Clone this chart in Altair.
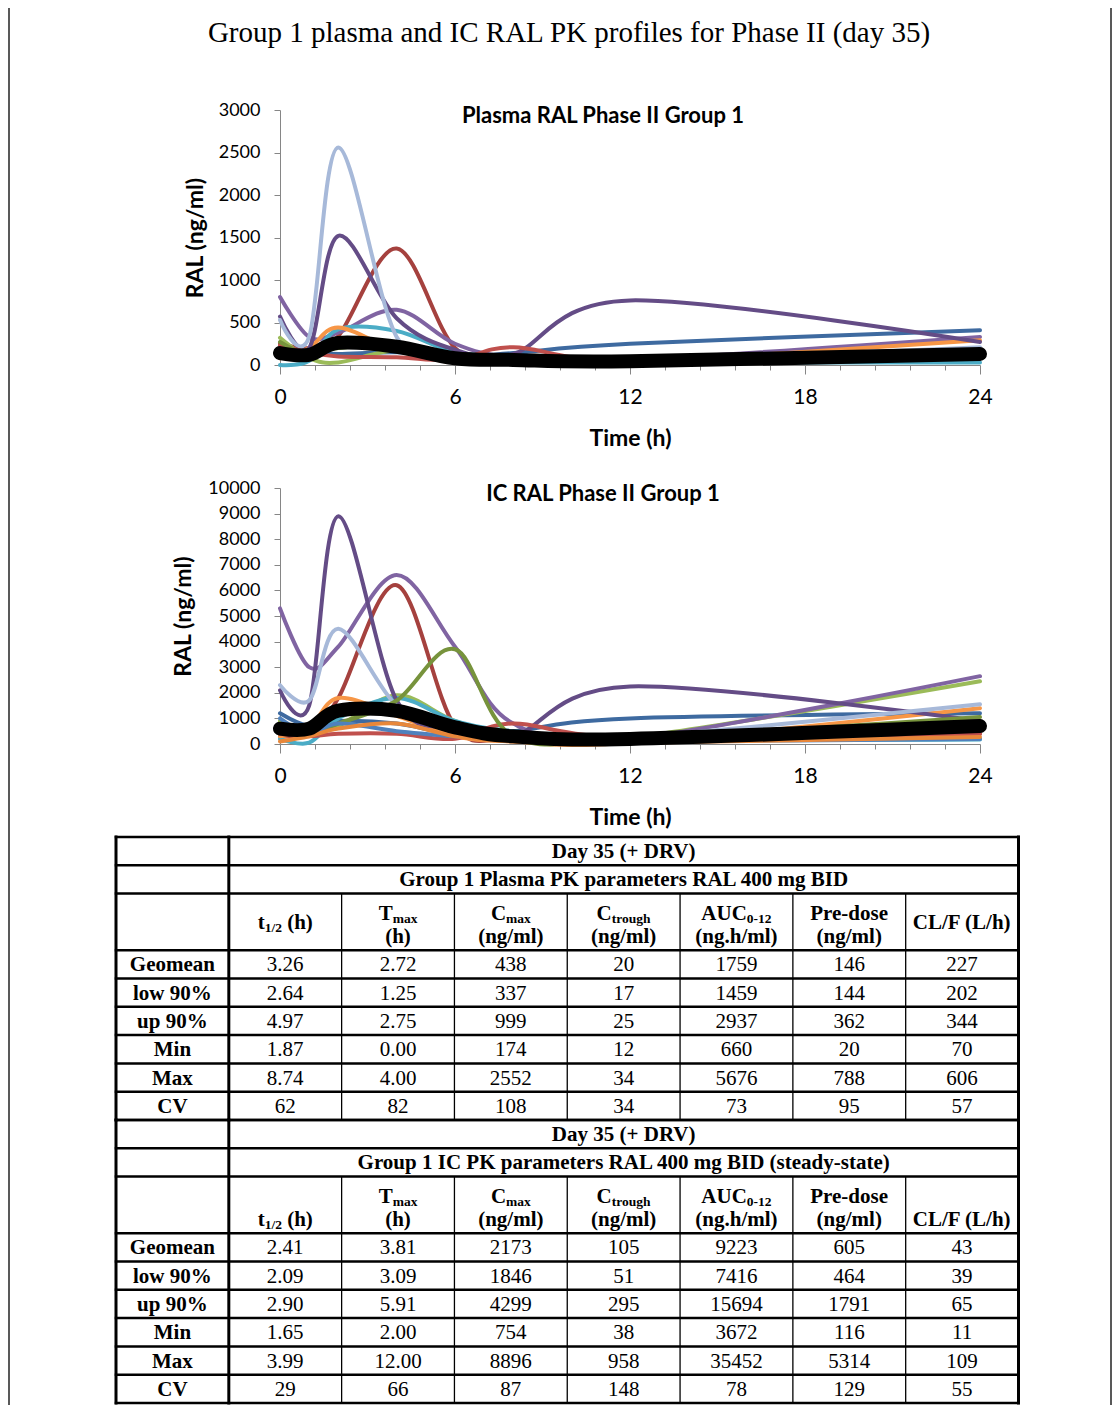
import altair as alt
import pandas as pd

# ---------------- data ----------------
hours = [0, 1, 2, 4, 6, 8, 12, 24]

plasma_subjects = ["S01", "S02", "S03", "S04", "S05", "S06", "S07", "S08", "S09", "S10"]
plasma_colors = ["#3E6AA0", "#A5413E", "#9BBB59", "#8064A2", "#4BACC6",
                 "#F79646", "#644C86", "#A7B9D9", "#C0504D", "#77933C"]
plasma_s01 = [200, 150, 130, 150, 100, 140, 250, 410]
plasma_s02 = [250, 200, 340, 1370, 200, 50, 30, 100]
plasma_s03 = [320, 80, 30, 170, 60, 40, 30, 120]
plasma_s04 = [800, 330, 380, 650, 250, 90, 60, 330]
plasma_s05 = [0, 50, 420, 400, 150, 110, 40, 30]
plasma_s06 = [80, 200, 440, 170, 30, 20, 30, 290]
plasma_s07 = [570, 200, 1520, 550, 180, 130, 760, 270]
plasma_s08 = [530, 330, 2560, 330, 120, 80, 50, 210]
plasma_s09 = [230, 150, 100, 90, 60, 210, 40, 100]
plasma_s10 = [270, 120, 200, 230, 100, 60, 40, 150]
plasma_mean = [140, 120, 260, 215, 80, 60, 45, 130]

ic_subjects = ["S01", "S02", "S03", "S04", "S05", "S06", "S07", "S08", "S09", "S10", "S11", "S12"]
ic_colors = ["#3E6AA0", "#A5413E", "#9BBB59", "#8064A2", "#4BACC6", "#F79646",
             "#644C86", "#A7B9D9", "#C0504D", "#77933C", "#4F81BD", "#E8873A"]
ic_s01 = [1200, 700, 900, 800, 400, 500, 1000, 1200]
ic_s02 = [300, 500, 1800, 6200, 700, 200, 150, 400]
ic_s03 = [900, 500, 700, 1900, 900, 400, 250, 2450]
ic_s04 = [5300, 3000, 3800, 6600, 3800, 800, 200, 2650]
ic_s05 = [200, 50, 1000, 1800, 900, 500, 200, 180]
ic_s06 = [300, 600, 1800, 1100, 300, 100, 50, 1400]
ic_s07 = [2100, 1500, 8900, 1700, 600, 300, 2250, 900]
ic_s08 = [2300, 1700, 4500, 1500, 500, 250, 250, 1550]
ic_s09 = [400, 300, 400, 400, 200, 800, 250, 400]
ic_s10 = [500, 400, 800, 1700, 3700, 300, 200, 1050]
ic_s11 = [1000, 400, 800, 500, 300, 150, 100, 200]
ic_s12 = [100, 300, 600, 800, 300, 100, 50, 270]
ic_mean = [600, 600, 1300, 1300, 650, 300, 200, 700]

x_ticks = [round(i * 1.2, 1) for i in range(21)]
plasma_y_ticks = [0, 500, 1000, 1500, 2000, 2500, 3000]
ic_y_ticks = [0, 1000, 2000, 3000, 4000, 5000, 6000, 7000, 8000, 9000, 10000]

main_title = "Group 1 plasma and IC RAL PK profiles for Phase II (day 35)"
plasma_title = "Plasma RAL Phase II Group 1"
ic_title = "IC RAL Phase II Group 1"

row_labels = ["Geomean", "low 90%", "up 90%", "Min", "Max", "CV"]
day_label = "Day 35 (+ DRV)"
table_titles = ["Group 1 Plasma PK parameters RAL 400 mg BID",
                "Group 1 IC PK parameters RAL 400 mg BID (steady-state)"]
plasma_rows = [
    ["3.26", "2.72", "438", "20", "1759", "146", "227"],
    ["2.64", "1.25", "337", "17", "1459", "144", "202"],
    ["4.97", "2.75", "999", "25", "2937", "362", "344"],
    ["1.87", "0.00", "174", "12", "660", "20", "70"],
    ["8.74", "4.00", "2552", "34", "5676", "788", "606"],
    ["62", "82", "108", "34", "73", "95", "57"],
]
ic_rows = [
    ["2.41", "3.81", "2173", "105", "9223", "605", "43"],
    ["2.09", "3.09", "1846", "51", "7416", "464", "39"],
    ["2.90", "5.91", "4299", "295", "15694", "1791", "65"],
    ["1.65", "2.00", "754", "38", "3672", "116", "11"],
    ["3.99", "12.00", "8896", "958", "35452", "5314", "109"],
    ["29", "66", "87", "148", "78", "129", "55"],
]
# header: list of lines, each a list of (text, is_subscript)
header_cols = [
    [[("t", False), ("1/2", True), (" (h)", False)]],
    [[("T", False), ("max", True)], [("(h)", False)]],
    [[("C", False), ("max", True)], [("(ng/ml)", False)]],
    [[("C", False), ("trough", True)], [("(ng/ml)", False)]],
    [[("AUC", False), ("0-12", True)], [("(ng.h/ml)", False)]],
    [[("Pre-dose", False)], [("(ng/ml)", False)]],
    [[("CL/F (L/h)", False)]],
]

# ---------------- layout constants ----------------
W, H = 1104, 1397
X_RANGE = [272, 972]
PL_Y = [357, 102]
IC_Y = [736, 480]
TAB_X = [108, 1010.5]
TAB_Y = [829, 1395]
PPX = (TAB_X[1] - TAB_X[0]) / 8
PPY = (TAB_Y[1] - TAB_Y[0]) / 20
BASE_FS = 21
SUB_FS = 13.5
SERIF = "Liberation Serif"
SANS = "Lato"
AXIS_GRAY = "#868686"

TB = {' ': 250, '(': 333, ')': 333, '/': 278, '-': 333, '.': 250, 'A': 722, 'C': 722,
      'D': 722, 'F': 611, 'L': 667, 'T': 667, 'U': 722, 'P': 611, 'a': 500, 'd': 556,
      'e': 444, 'g': 500, 'h': 556, 'l': 278, 'm': 833, 'n': 556, 'o': 500, 'r': 444,
      's': 389, 't': 333, 'u': 556, 'x': 500}


def tw(s, size):
    return sum(TB.get(c, 500) for c in s) / 1000.0 * size


def long_df(subjects, series):
    recs = []
    for s, vals in zip(subjects, series):
        for h, v in zip(hours, vals):
            recs.append({"subject": s, "time": h, "value": v})
    return pd.DataFrame(recs)


plasma_df = long_df(plasma_subjects, [plasma_s01, plasma_s02, plasma_s03, plasma_s04, plasma_s05,
                                      plasma_s06, plasma_s07, plasma_s08, plasma_s09, plasma_s10])
plasma_mean_df = pd.DataFrame({"time": hours, "value": plasma_mean})
ic_df = long_df(ic_subjects, [ic_s01, ic_s02, ic_s03, ic_s04, ic_s05, ic_s06,
                              ic_s07, ic_s08, ic_s09, ic_s10, ic_s11, ic_s12])
ic_mean_df = pd.DataFrame({"time": hours, "value": ic_mean})


def panel(df, mean_df, subjects, colors, ymax, yrange, yticks, x_off, y_titlex):
    tick_rule = {"condition": {"test": "datum.value % 6 === 0", "value": 9}, "value": 5}
    x = alt.X("time:Q",
              scale=alt.Scale(domain=[0, 24], range=X_RANGE, nice=False, zero=False),
              axis=alt.Axis(orient="bottom", offset=x_off, values=x_ticks,
                            labelExpr="datum.value % 6 === 0 ? datum.label : ''",
                            tickSize=tick_rule, tickColor=AXIS_GRAY, domainColor=AXIS_GRAY,
                            labelFont=SANS, labelFontSize=21, labelColor="black",
                            labelPadding=12, labelOverlap=False, labelFlush=False,
                            title="Time (h)", titleFont=SANS, titleFontSize=23,
                            titleFontWeight="bold", titleColor="black",
                            titleY=73, titleBaseline="middle", grid=False))
    y = alt.Y("value:Q",
              scale=alt.Scale(domain=[0, ymax], range=yrange, nice=False, zero=False),
              axis=alt.Axis(orient="left", offset=-X_RANGE[0], values=yticks,
                            tickSize=6, tickColor=AXIS_GRAY, domainColor=AXIS_GRAY,
                            labelFont=SANS, labelFontSize=18, labelColor="black",
                            labelPadding=14, labelOverlap=False, format="d",
                            title="RAL (ng/ml)", titleFont=SANS, titleFontSize=23,
                            titleFontWeight="bold", titleColor="black",
                            titleX=y_titlex, titleBaseline="middle", grid=False))
    subj = alt.Chart(df).mark_line(interpolate="cardinal", strokeWidth=4, strokeCap="round",
                                   clip=False).encode(
        x=x, y=y,
        color=alt.Color("subject:N", scale=alt.Scale(domain=subjects, range=colors), legend=None),
    )
    mean = alt.Chart(mean_df).mark_line(interpolate="cardinal", strokeWidth=14, color="black",
                                        strokeCap="round", clip=False).encode(
        x=alt.X("time:Q"), y=alt.Y("value:Q"))
    return alt.layer(subj, mean)


plasma_panel = panel(plasma_df, plasma_mean_df, plasma_subjects, plasma_colors, 3000, PL_Y,
                     plasma_y_ticks, -(H - PL_Y[0]), -85)
ic_panel = panel(ic_df, ic_mean_df, ic_subjects, ic_colors, 10000, IC_Y,
                 ic_y_ticks, -(H - IC_Y[0]), -97)


def label_text(txt, xpos, ypos, size, weight, font):
    return alt.Chart(pd.DataFrame({"t": [txt]})).mark_text(
        font=font, fontSize=size, fontWeight=weight, color="black",
        align="center", baseline="alphabetic").encode(
        x=alt.value(xpos), y=alt.value(ypos), text="t:N")


title_layer = label_text(main_title, 561, 34, 29, "normal", SERIF)
pl_title_layer = label_text(plasma_title, 595, 115, 22, "bold", SANS)
ic_title_layer = label_text(ic_title, 595, 493, 22, "bold", SANS)

# ---------------- tables ----------------
center_recs, value_recs, head_base, head_sub = [], [], [], []
for t, (rows, ttl) in enumerate([(plasma_rows, table_titles[0]), (ic_rows, table_titles[1])]):
    off = 10 * t
    center_recs.append({"x": 4.5, "y": off + 0.5 + 7 / PPY, "text": day_label})
    center_recs.append({"x": 4.5, "y": off + 1.5 + 7 / PPY, "text": ttl})
    for i, lab in enumerate(row_labels):
        ry = off + 4 + i + 0.5 + 7 / PPY
        center_recs.append({"x": 0.5, "y": ry, "text": lab})
        for j, v in enumerate(rows[i]):
            value_recs.append({"x": j + 1.5, "y": ry, "text": v})
    hc = off + 3
    for j, lines in enumerate(header_cols):
        if len(lines) == 2:
            line_offs = [-2, 21]
        else:
            line_offs = [7] if t == 0 else [21]
        for parts, loff in zip(lines, line_offs):
            widths = [tw(p, SUB_FS if s else BASE_FS) for p, s in parts]
            left = (j + 1.5) - sum(widths) / 2 / PPX
            cum = 0.0
            for (p, s), w in zip(parts, widths):
                stripped = p.lstrip(" ")
                lead = tw(p[:len(p) - len(stripped)], SUB_FS if s else BASE_FS)
                rec = {"x": left + (cum + lead) / PPX,
                       "y": hc + (loff + (3 if s else 0)) / PPY, "text": stripped}
                (head_sub if s else head_base).append(rec)
                cum += w

hrule_recs, vthick_recs, vthin_recs = [], [], []
for t in range(2):
    off = 10 * t
    for e in [0, 1, 2, 4, 5, 6, 7, 8, 9, 10]:
        hrule_recs.append({"x": 0, "x2": 8, "y": off + e})
    for xv in [0, 1, 8]:
        vthick_recs.append({"x": xv, "y": off, "y2": off + 10})
    for xv in range(2, 8):
        vthin_recs.append({"x": xv, "y": off + 2, "y2": off + 10})

tx = alt.Scale(domain=[0, 8], range=TAB_X, nice=False, zero=False)
ty = alt.Scale(domain=[0, 20], range=TAB_Y, nice=False, zero=False)


def tab_text(recs, size, weight, align):
    return alt.Chart(pd.DataFrame(recs)).mark_text(
        font=SERIF, fontSize=size, fontWeight=weight, color="black",
        align=align, baseline="alphabetic").encode(
        x=alt.X("x:Q", scale=tx, axis=None),
        y=alt.Y("y:Q", scale=ty, axis=None),
        text="text:N")


hrules = alt.Chart(pd.DataFrame(hrule_recs)).mark_rule(
    color="black", strokeWidth=2.5, strokeCap="square").encode(
    x=alt.X("x:Q", scale=tx, axis=None), x2="x2:Q", y=alt.Y("y:Q", scale=ty, axis=None))
vthick = alt.Chart(pd.DataFrame(vthick_recs)).mark_rule(
    color="black", strokeWidth=3, strokeCap="square").encode(
    x=alt.X("x:Q", scale=tx, axis=None), y=alt.Y("y:Q", scale=ty, axis=None), y2="y2:Q")
vthin = alt.Chart(pd.DataFrame(vthin_recs)).mark_rule(
    color="black", strokeWidth=1.3).encode(
    x=alt.X("x:Q", scale=tx, axis=None), y=alt.Y("y:Q", scale=ty, axis=None), y2="y2:Q")

table_layer = alt.layer(
    hrules, vthick, vthin,
    tab_text(center_recs, BASE_FS, "bold", "center"),
    tab_text(value_recs, BASE_FS, "normal", "center"),
    tab_text(head_base, BASE_FS, "bold", "left"),
    tab_text(head_sub, SUB_FS, "bold", "left"),
)

frame = alt.Chart(pd.DataFrame({"k": [0]})).mark_rule(color="#222222", strokeWidth=1.5).encode(
    x=alt.value(1), y=alt.value(0), y2=alt.value(H))
frame_r = alt.Chart(pd.DataFrame({"k": [0]})).mark_rule(color="#222222", strokeWidth=1.5).encode(
    x=alt.value(W - 1), y=alt.value(0), y2=alt.value(H))

chart = alt.layer(
    frame, frame_r, title_layer, plasma_panel, pl_title_layer, ic_panel, ic_title_layer, table_layer
).resolve_scale(
    x="independent", y="independent", color="independent"
).properties(
    width=W, height=H, autosize=alt.AutoSizeParams(type="none"), padding=0
).configure_view(stroke=None).configure_axis(grid=False)

chart.save("out.html", embed_options={"renderer": "svg", "actions": False})
